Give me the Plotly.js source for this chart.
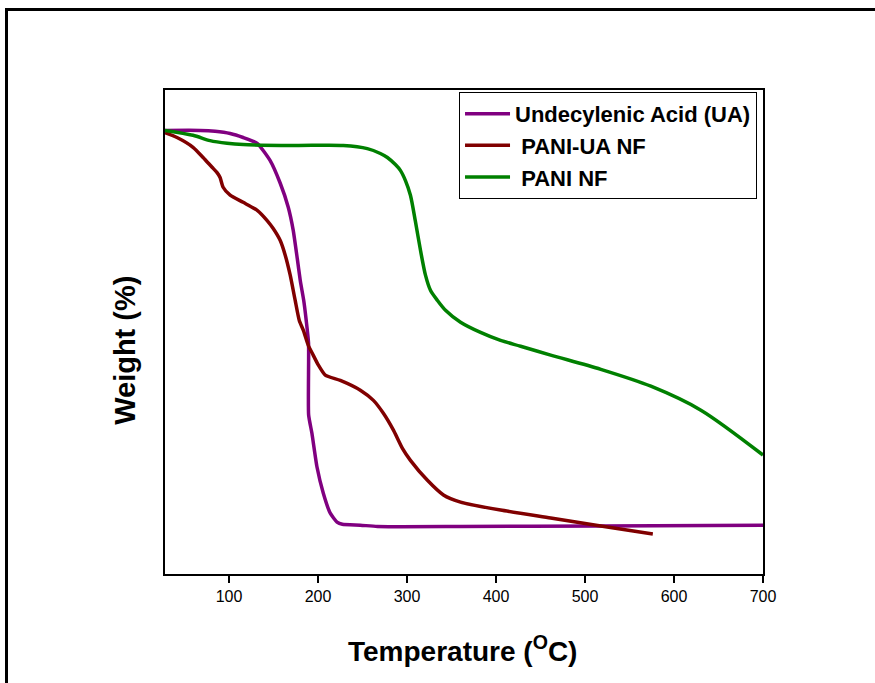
<!DOCTYPE html>
<html>
<head>
<meta charset="utf-8">
<script src="https://cdn.plot.ly/plotly-3.0.1.min.js"></script>
<style>
  html, body { margin: 0; padding: 0; background: #fff; overflow: hidden; }
  #wrap { position: relative; width: 875px; height: 683px; }
  #chart { width: 875px; height: 683px; }
  #frame { position: absolute; left: 5px; top: 8px; width: 900px; height: 700px;
           border-top: 3px solid #000; border-left: 3px solid #000; pointer-events: none; }
</style>
</head>
<body>
<div id="wrap">
  <div id="chart"></div>
  <div id="frame"></div>
</div>
<script>
// Undecylenic Acid (UA)
const uaTemp = [28, 67.4, 84.3, 101.2, 115.8, 131.6, 146.2, 157.5, 166.5, 172.1, 176.6, 180.0, 183.9, 186.7, 189.3, 189.4, 193.1, 198.8, 205.9, 213.7, 221.3, 227.3, 247.5, 266.7, 360.1, 517.7, 700];
const uaWeight = [99.9, 99.9, 99.7, 99.2, 98.3, 97.0, 93.1, 88.0, 82.6, 77.4, 71.1, 66.1, 61.6, 57.1, 52.0, 35.8, 31.7, 24.1, 18.2, 13.7, 11.7, 11.2, 11.0, 10.7, 10.7, 10.8, 11.0];

// PANI-UA NF
const puTemp = [28, 41.5, 59.5, 70.8, 80.9, 86.5, 89.9, 93.3, 101.2, 115.8, 131.6, 142.8, 149.6, 157.5, 163.1, 168.7, 174.3, 178.9, 183.4, 189.0, 193.5, 200.2, 208.1, 225.0, 247.5, 262.2, 273.4, 284.7, 294.8, 303.8, 322.9, 340.9, 360.1, 405.1, 461.4, 517.7, 576.2];
const puWeight = [99.4, 98.3, 96.1, 93.8, 91.6, 90.4, 89.3, 87.1, 85.3, 83.7, 81.9, 79.6, 77.8, 75.1, 71.8, 67.3, 61.6, 57.1, 54.9, 51.5, 49.7, 47.1, 44.8, 43.6, 41.4, 39.1, 36.2, 32.4, 28.3, 25.6, 21.1, 17.8, 16.2, 14.4, 12.6, 10.8, 9.0];

// PANI NF
const pnTemp = [28, 59.5, 78.7, 97.8, 115.8, 172.1, 228.4, 255.4, 270.0, 277.9, 286.9, 292.5, 298.2, 303.8, 309.4, 315.1, 320.7, 326.3, 334.2, 343.2, 360.1, 382.6, 405.1, 427.6, 461.4, 517.7, 574.0, 630.2, 700];
const pnWeight = [99.9, 98.8, 97.6, 97.0, 96.7, 96.5, 96.5, 95.8, 94.7, 93.8, 92.2, 90.9, 88.6, 85.3, 79.4, 72.9, 67.3, 63.9, 61.6, 59.4, 56.7, 54.4, 52.6, 51.3, 49.3, 46.1, 42.3, 36.9, 26.8];

const seriesNames = ['Undecylenic Acid (UA)', '\u00a0PANI-UA NF', '\u00a0PANI NF'];
const tickVals = [100, 200, 300, 400, 500, 600, 700];

const FONT = '"Liberation Sans", Arial, sans-serif';

const traces = [
  { x: uaTemp, y: uaWeight, name: seriesNames[0], type: 'scatter', mode: 'lines',
    line: { color: '#800080', width: 3.5, shape: 'spline', smoothing: 0.5 } },
  { x: puTemp, y: puWeight, name: seriesNames[1], type: 'scatter', mode: 'lines',
    line: { color: '#800000', width: 3.5, shape: 'spline', smoothing: 0.6 } },
  { x: pnTemp, y: pnWeight, name: seriesNames[2], type: 'scatter', mode: 'lines',
    line: { color: '#008000', width: 3.5, shape: 'spline', smoothing: 0.8 } }
];

const layout = {
  width: 875, height: 683,
  margin: { l: 165, r: 112, t: 90, b: 109 },
  paper_bgcolor: '#ffffff',
  plot_bgcolor: '#ffffff',
  font: { family: FONT, color: '#000' },
  showlegend: true,
  legend: {
    x: 0.99, y: 0.996, xanchor: 'right', yanchor: 'top',
    bordercolor: '#000', borderwidth: 1, bgcolor: '#fff',
    font: { family: FONT, size: 22, color: '#000', weight: 'bold' },
    itemwidth: 45,
    tracegroupgap: 0
  },
  xaxis: {
    range: [28, 700],
    tickvals: tickVals,
    ticktext: tickVals.map(String),
    ticks: 'outside', ticklen: 7, tickwidth: 1.5, tickcolor: '#000',
    showline: true, linecolor: '#000', linewidth: 2, mirror: true,
    showgrid: false, zeroline: false,
    tickfont: { family: FONT, size: 16, color: '#000' }
  },
  yaxis: {
    range: [0, 109],
    showticklabels: false, ticks: '',
    showline: true, linecolor: '#000', linewidth: 2, mirror: true,
    showgrid: false, zeroline: false
  },
  annotations: [
    { text: '<b>Temperature (<sup>O</sup>C)</b>', xref: 'paper', yref: 'paper',
      x: 0.497, y: -0.155, xanchor: 'center', yanchor: 'middle', showarrow: false,
      font: { family: FONT, size: 28, color: '#000' } },
    { text: '<b>Weight (%)</b>', xref: 'paper', yref: 'paper', textangle: -90,
      x: -0.067, y: 0.463, xanchor: 'center', yanchor: 'middle', showarrow: false,
      font: { family: FONT, size: 29, color: '#000' } }
  ]
};

Plotly.newPlot('chart', traces, layout, { displayModeBar: false, staticPlot: true });
</script>
</body>
</html>
